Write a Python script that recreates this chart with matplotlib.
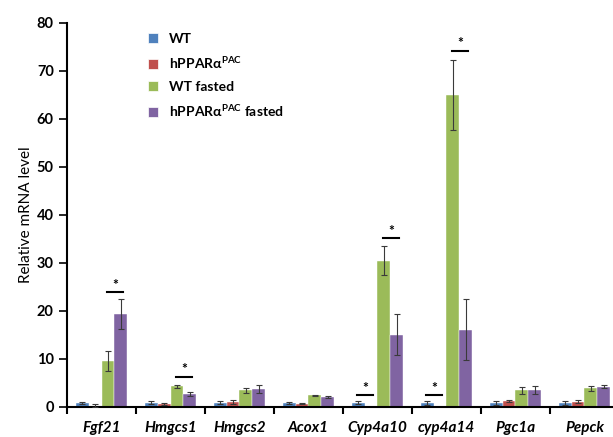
import numpy as np
import matplotlib
matplotlib.use("Agg")
import matplotlib.pyplot as plt
from matplotlib.lines import Line2D

plt.rcParams['font.family'] = ['Lato', 'DejaVu Sans']
plt.rcParams['mathtext.fontset'] = 'custom'
plt.rcParams['mathtext.rm'] = 'Lato:bold'
plt.rcParams['mathtext.bf'] = 'Lato:bold'

genes = ["Fgf21", "Hmgcs1", "Hmgcs2", "Acox1", "Cyp4a10", "cyp4a14", "Pgc1a", "Pepck"]
series = ["WT", "hPPARα$^{\\mathrm{PAC}}$", "WT fasted", "hPPARα$^{\\mathrm{PAC}}$ fasted"]
colors = ["#4F81BD", "#C0504D", "#9BBB59", "#8064A2"]

wt = [0.9, 0.9, 0.9, 0.9, 0.9, 0.9, 0.9, 0.9]
wt_err = [0.2, 0.3, 0.3, 0.2, 0.3, 0.4, 0.4, 0.4]
hp = [0.3, 0.7, 1.1, 0.7, 0.0, 0.0, 1.2, 1.1]
hp_err = [0.4, 0.2, 0.4, 0.15, np.nan, np.nan, 0.2, 0.3]
wtf = [9.5, 4.3, 3.5, 2.4, 30.5, 65.0, 3.5, 3.9]
wtf_err = [2.1, 0.3, 0.5, 0.2, 3.0, 7.3, 0.7, 0.5]
hpf = [19.4, 2.7, 3.8, 2.1, 15.1, 16.1, 3.6, 4.2]
hpf_err = [3.2, 0.4, 0.8, 0.15, 4.2, 6.3, 0.8, 0.3]

values = [wt, hp, wtf, hpf]
errors = [wt_err, hp_err, wtf_err, hpf_err]

# significance: (gene index, first series, second series, line height)
sig = [(0, 2, 3, 23.9), (1, 2, 3, 6.3), (4, 0, 1, 2.5), (4, 2, 3, 35.2),
       (5, 0, 1, 2.5), (5, 2, 3, 74.2)]

fig = plt.figure(figsize=(6.13, 4.37), dpi=100)
ax = fig.add_axes([67/613, 30/437, 552/613, 384/437])

x = np.arange(len(genes))
w = 0.188
offs = np.array([-1.5, -0.5, 0.5, 1.5]) * w
for k in range(4):
    vals = np.array(values[k], dtype=float)
    errs = np.array(errors[k], dtype=float)
    ax.bar(x + offs[k], vals, width=w, color=colors[k], edgecolor='white',
           linewidth=0.3, label=series[k], zorder=2)
    m = ~np.isnan(errs)
    ax.errorbar((x + offs[k])[m], vals[m], yerr=errs[m], fmt='none',
                ecolor='#3a3a3a', elinewidth=0.8, capsize=2, capthick=0.8, zorder=3)

for g, a, b, h in sig:
    xa = g + offs[a] - 0.02
    xb = g + offs[b] + 0.03
    ax.plot([xa, xb], [h, h], color='black', lw=1.5, zorder=4)
    ax.annotate('*', xy=((xa + xb) / 2, h), xytext=(0, 1), textcoords='offset points',
                ha='center', va='bottom', fontsize=10, fontweight='bold')

ax.set_xlim(-0.5, len(genes) - 0.5)
ax.set_ylim(0, 80)
ax.set_yticks(np.arange(0, 81, 10))
ax.tick_params(axis='y', labelsize=10.5, width=1.2, length=6, direction='out')
for lab in ax.get_yticklabels():
    lab.set_fontweight('bold')

ax.set_xticks(np.arange(-0.5, len(genes), 1.0))
ax.set_xticklabels([])
ax.tick_params(axis='x', which='major', width=1.5, length=5, direction='out')
ax.set_xticks(x, minor=True)
ax.set_xticklabels(genes, minor=True, fontsize=11, fontweight='bold', fontstyle='italic')
ax.tick_params(axis='x', which='minor', length=0, pad=10)

for s in ['top', 'right']:
    ax.spines[s].set_visible(False)
ax.spines['left'].set_linewidth(1.5)
ax.spines['bottom'].set_linewidth(1.5)

ax.set_ylabel('Relative mRNA level', fontsize=11, labelpad=3)

handles = [Line2D([], [], marker='s', linestyle='none', markersize=7,
                  markerfacecolor=c, markeredgecolor='white', markeredgewidth=0.5) for c in colors]
leg = ax.legend(handles, series, loc='upper left', bbox_to_anchor=(140/613, 1 - 26/437),
                bbox_transform=fig.transFigure, frameon=False, fontsize=10,
                handlelength=0.8, handletextpad=0.8, labelspacing=0.7, borderpad=0)
for t in leg.get_texts():
    t.set_fontweight('bold')

fig.savefig('out.png', dpi=100)
